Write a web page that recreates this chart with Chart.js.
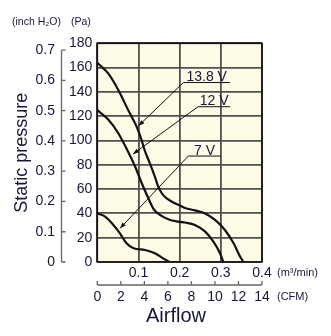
<!DOCTYPE html>
<html>
<head>
<meta charset="utf-8">
<script src="https://cdn.jsdelivr.net/npm/chart.js@4.4.1/dist/chart.umd.min.js"></script>
<style>
html,body{margin:0;padding:0;background:#fff;}
#c{display:block;}
</style>
</head>
<body>
<canvas id="c" width="331" height="336"></canvas>
<script>
// ---- data (airflow in m3/min, static pressure in Pa) ----
const seriesNames = ['13.8 V', '12 V', '7 V'];
const q138 = [0, 0.027, 0.051, 0.075, 0.096, 0.108, 0.116, 0.128, 0.140, 0.148, 0.160, 0.181, 0.201, 0.213, 0.237, 0.262, 0.286, 0.310, 0.331, 0.347, 0.355];
const p138 = [164, 155, 141.5, 125, 111, 100, 91, 81, 70, 62, 55, 49.6, 46.5, 44.5, 42.5, 40, 34.6, 26.3, 15.4, 4.4, 0];
const q12 = [0, 0.027, 0.051, 0.073, 0.092, 0.108, 0.124, 0.136, 0.152, 0.177, 0.201, 0.213, 0.237, 0.262, 0.282, 0.298, 0.306];
const p12 = [125, 117, 106, 92, 78.4, 64.8, 52.4, 44, 38.7, 34.6, 33, 32.5, 30.5, 25, 16.7, 7.2, 0];
const q7 = [0, 0.019, 0.039, 0.055, 0.071, 0.088, 0.116, 0.140, 0.160, 0.175];
const p7 = [40, 37.3, 30.5, 23.6, 15.4, 11.3, 9.9, 7.2, 3, 0];
const flowTicks = [0.1, 0.2, 0.3, 0.4];          // m3/min
const cfmTicks = [0, 2, 4, 6, 8, 10, 12, 14];      // CFM
const paTicks = [0, 20, 40, 60, 80, 100, 120, 140, 160, 180];
const inchTicks = [0, 0.1, 0.2, 0.3, 0.4, 0.5, 0.6, 0.7];
const PA_PER_INCH = 249.089;

const pts = (qs, ps) => qs.map((q, i) => ({x: q, y: ps[i]}));

const TXT = '#17173a';
const SANS = "'Liberation Sans', Arial, sans-serif";
const GRID = '#505050';

const extras = {
  id: 'extras',
  beforeDraw(chart) {
    const {ctx, chartArea: a} = chart;
    ctx.save();
    ctx.fillStyle = '#fdfae6';
    ctx.fillRect(a.left, a.top, a.right - a.left, a.bottom - a.top);
    ctx.restore();
  },
  afterDatasetsDraw(chart) {
    const {ctx, chartArea: a, scales} = chart;
    const x = scales.x, y = scales.y, yi = scales.yInch, cf = scales.cfm;
    ctx.save();
    // plot border
    ctx.strokeStyle = '#111';
    ctx.lineWidth = 1.6;
    ctx.strokeRect(a.left, a.top, a.right - a.left, a.bottom - a.top);

    // inch H2O axis line + inward ticks
    ctx.strokeStyle = '#666';
    ctx.lineWidth = 1.3;
    const ax = yi.right;
    ctx.beginPath();
    ctx.moveTo(ax, yi.getPixelForValue(0));
    ctx.lineTo(ax, yi.getPixelForValue(0.7));
    inchTicks.forEach(v => {
      const py = yi.getPixelForValue(v);
      ctx.moveTo(ax, py); ctx.lineTo(ax + 4, py);
    });
    ctx.stroke();

    // CFM axis line + upward ticks
    const ay = cf.top;
    ctx.beginPath();
    ctx.moveTo(cf.getPixelForValue(0), ay);
    ctx.lineTo(cf.getPixelForValue(14), ay);
    cfmTicks.forEach(v => {
      const px = cf.getPixelForValue(v);
      ctx.moveTo(px, ay); ctx.lineTo(px, ay - 4);
    });
    ctx.stroke();

    // curve labels with leader arrows
    const notes = [
      {t: seriesNames[0], ux0: 0.209, ux1: 0.3225, uy: 147.7, tx: 0.100, ty: 112},
      {t: seriesNames[1], ux0: 0.2447, ux1: 0.3225, uy: 127.8, tx: 0.0868, ty: 88.9},
      {t: seriesNames[2], ux0: 0.2211, ux1: 0.2996, uy: 87.2, tx: 0.0552, ty: 27.7}
    ];
    ctx.strokeStyle = '#111';
    ctx.fillStyle = '#111';
    ctx.lineWidth = 1;
    notes.forEach(n => {
      const x0 = x.getPixelForValue(n.ux0), x1 = x.getPixelForValue(n.ux1);
      const uy = y.getPixelForValue(n.uy);
      const tx = x.getPixelForValue(n.tx), ty = y.getPixelForValue(n.ty);
      ctx.beginPath();
      ctx.moveTo(x1, uy); ctx.lineTo(x0, uy); ctx.lineTo(tx, ty);
      ctx.stroke();
      const ang = Math.atan2(ty - uy, tx - x0);
      const L = 6, W = 2.2;
      ctx.beginPath();
      ctx.moveTo(tx, ty);
      ctx.lineTo(tx - L * Math.cos(ang) + W * Math.sin(ang), ty - L * Math.sin(ang) - W * Math.cos(ang));
      ctx.lineTo(tx - L * Math.cos(ang) - W * Math.sin(ang), ty - L * Math.sin(ang) + W * Math.cos(ang));
      ctx.closePath();
      ctx.fill();
      ctx.save();
      ctx.fillStyle = TXT;
      ctx.font = '14px ' + SANS;
      ctx.textAlign = 'center';
      ctx.textBaseline = 'alphabetic';
      ctx.fillText(n.t, (x0 + x1) / 2, uy - 1.5);
      ctx.restore();
    });

    // unit labels
    ctx.fillStyle = TXT;
    ctx.font = '10.5px ' + SANS;
    ctx.textAlign = 'left';
    ctx.textBaseline = 'middle';
    ctx.fillText('(inch H\u2082O)', 12, 22.5);
    ctx.fillText('(Pa)', 71, 22.5);
    ctx.font = '11px ' + SANS;
    ctx.fillText('(m\u00b3/min)', 277, 273);
    ctx.fillText('(CFM)', 277, 297);

    // axis name
    ctx.font = '20px ' + SANS;
    ctx.textAlign = 'center';
    ctx.textBaseline = 'alphabetic';
    ctx.fillText('Airflow', 176, 322);
    ctx.restore();
  }
};

const tickFont = {family: SANS, size: 14};

new Chart(document.getElementById('c'), {
  type: 'line',
  data: {
    datasets: [
      {label: seriesNames[0], data: pts(q138, p138)},
      {label: seriesNames[1], data: pts(q12, p12)},
      {label: seriesNames[2], data: pts(q7, p7)}
    ].map(d => Object.assign(d, {
      borderColor: '#111', borderWidth: 2.2, pointRadius: 0, fill: false,
      cubicInterpolationMode: 'monotone', xAxisID: 'x', yAxisID: 'y'
    }))
  },
  options: {
    responsive: false,
    animation: false,
    devicePixelRatio: 1,
    layout: {padding: {left: 0, top: 43.3, right: 69, bottom: 31}},
    plugins: {legend: {display: false}, tooltip: {enabled: false}},
    scales: {
      x: {
        type: 'linear', position: 'bottom', weight: 0, min: 0, max: 0.4,
        afterBuildTicks: s => { s.ticks = [0].concat(flowTicks).map(v => ({value: v})); },
        ticks: {font: tickFont, color: TXT, padding: 2.5, maxRotation: 0, autoSkip: false,
                callback: v => v === 0 ? '' : v.toFixed(1)},
        grid: {color: GRID, lineWidth: 1.8, drawTicks: false},
        border: {display: false},
        afterFit: s => { s.height = 23; }
      },
      cfm: {
        type: 'linear', position: 'bottom', weight: 1, min: 0, max: 14,
        afterBuildTicks: s => { s.ticks = cfmTicks.map(v => ({value: v})); },
        ticks: {font: tickFont, color: TXT, padding: 3.5, maxRotation: 0, autoSkip: false},
        grid: {display: false, drawTicks: false},
        border: {display: false},
        afterFit: s => { s.height = 20; }
      },
      y: {
        type: 'linear', position: 'left', weight: 0, min: 0, max: 180,
        afterBuildTicks: s => { s.ticks = paTicks.map(v => ({value: v})); },
        ticks: {font: tickFont, color: TXT, padding: 5},
        grid: {color: GRID, lineWidth: 1.8, drawTicks: false},
        border: {display: false},
        afterFit: s => { s.width = 35.8; }
      },
      yInch: {
        type: 'linear', position: 'left', weight: 1, min: 0, max: 180 / PA_PER_INCH,
        afterBuildTicks: s => { s.ticks = inchTicks.map(v => ({value: v})); },
        ticks: {font: tickFont, color: TXT, padding: 6.5,
                callback: v => v === 0 ? '0' : v.toFixed(1)},
        grid: {display: false, drawTicks: false},
        border: {display: false},
        title: {display: true, text: 'Static pressure', color: TXT,
                font: {family: SANS, size: 18}, padding: {top: 11.5, bottom: 0}},
        afterFit: s => { s.width = 61.5; }
      }
    }
  },
  plugins: [extras]
});
</script>
</body>
</html>
